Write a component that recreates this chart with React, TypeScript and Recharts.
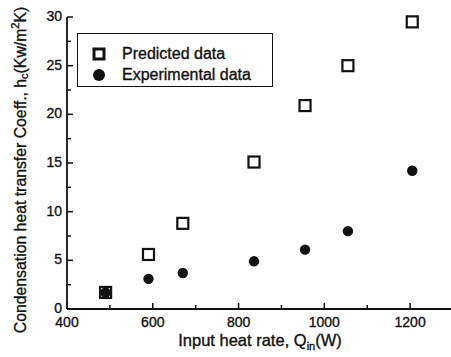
import { ScatterChart, Scatter, XAxis, YAxis, Legend } from 'recharts'

const HEAT_RATE = [490, 590, 670, 836, 955, 1055, 1205]
const PREDICTED = [1.7, 5.6, 8.8, 15.1, 20.9, 25.0, 29.5]
const EXPERIMENTAL = [1.7, 3.1, 3.7, 4.9, 6.1, 8.0, 14.2]
const SERIES_NAMES = ['Predicted data', 'Experimental data']

const X_TICKS = [400, 500, 600, 700, 800, 900, 1000, 1100, 1200, 1300]
const X_LABELED = [400, 600, 800, 1000, 1200]
const Y_TICKS = [0, 2.5, 5, 7.5, 10, 12.5, 15, 17.5, 20, 22.5, 25, 27.5, 30]
const Y_LABELED = [0, 5, 10, 15, 20, 25, 30]

const predictedData = HEAT_RATE.map((q, i) => ({ q, h: PREDICTED[i] }))
const experimentalData = HEAT_RATE.map((q, i) => ({ q, h: EXPERIMENTAL[i] }))

const FONT = '"Liberation Sans", Arial, sans-serif'
const INK = '#111'
const TEXT_STYLE = { stroke: INK, strokeWidth: 0.35 }

const OpenSquare = (p: any) => (
  <rect x={p.cx - 5.5} y={p.cy - 5.5} width={11} height={11} fill="#fff" stroke={INK} strokeWidth={2.2} />
)
const Dot = (p: any) => <circle cx={p.cx} cy={p.cy} r={5.2} fill={INK} />

const BottomTick = ({ x, y, payload }: any) => {
  const major = X_LABELED.includes(payload.value)
  return (
    <g>
      <line x1={x} x2={x} y1={y} y2={y - (major ? 6 : 4)} stroke={INK} strokeWidth={1.5} />
      {major && (
        <text x={x} y={y + 18} textAnchor="middle" fontSize={14} fontFamily={FONT} fill={INK} style={TEXT_STYLE}>
          {payload.value}
        </text>
      )}
    </g>
  )
}

const TopTick = ({ x, y, payload }: any) => {
  const major = X_LABELED.includes(payload.value)
  return <line x1={x} x2={x} y1={y} y2={y + (major ? 6 : 4)} stroke={INK} strokeWidth={1.5} />
}

const LeftTick = ({ x, y, payload }: any) => {
  const major = Y_LABELED.includes(payload.value)
  return (
    <g>
      <line x1={x} x2={x + (major ? 6 : 4)} y1={y} y2={y} stroke={INK} strokeWidth={1.5} />
      {major && (
        <text x={x - 5} y={y + 4} textAnchor="end" fontSize={14} fontFamily={FONT} fill={INK} style={TEXT_STYLE}>
          {payload.value}
        </text>
      )}
    </g>
  )
}

const RightTick = ({ x, y, payload }: any) => {
  const major = Y_LABELED.includes(payload.value)
  return <line x1={x} x2={x - (major ? 6 : 4)} y1={y} y2={y} stroke={INK} strokeWidth={1.5} />
}

const YTitle = ({ viewBox }: any) => {
  const cx = 20
  const cy = viewBox.y + viewBox.height / 2 + 7
  return (
    <text
      transform={`translate(${cx},${cy}) rotate(-90)`}
      textAnchor="middle"
      dominantBaseline="central"
      fontSize={15.8}
      fontFamily={FONT}
      fill={INK}
      style={TEXT_STYLE}
    >
      Condensation heat transfer Coeff., h
      <tspan dy={4} fontSize={11}>c</tspan>
      <tspan dy={-4}>(Kw/m</tspan>
      <tspan dy={-5} fontSize={11}>2</tspan>
      <tspan dy={5}>K)</tspan>
    </text>
  )
}

const XTitle = ({ viewBox }: any) => {
  const cx = viewBox.x + viewBox.width / 2
  return (
    <text x={cx} y={346} textAnchor="middle" fontSize={16.5} fontFamily={FONT} fill={INK} style={TEXT_STYLE}>
      Input heat rate, Q
      <tspan dy={4} fontSize={11}>in</tspan>
      <tspan dy={-4}>(W)</tspan>
    </text>
  )
}

const LegendBox = ({ payload }: any) => {
  const items = SERIES_NAMES.map(name => (payload || []).find((e: any) => e.value === name)).filter(Boolean)
  return (
    <div
      style={{
        border: `1.5px solid ${INK}`,
        width: 196,
        height: 54,
        boxSizing: 'border-box',
        padding: '9px 0 0 13px',
        background: '#fff',
        fontFamily: FONT,
        fontSize: 16,
        color: INK,
        WebkitTextStroke: '0.35px #111',
      }}
    >
      {items.map((entry: any) => (
        <div key={entry.value} style={{ display: 'flex', alignItems: 'center', height: 21 }}>
          <svg width={16} height={14} style={{ marginRight: 15 }}>
            {entry.value === 'Predicted data' ? (
              <rect x={3} y={2} width={10} height={10} fill="#fff" stroke={INK} strokeWidth={3} />
            ) : (
              <circle cx={8} cy={7} r={6} fill={INK} />
            )}
          </svg>
          <span>{entry.value}</span>
        </div>
      ))}
    </div>
  )
}

export default function App() {
  return (
    <div style={{ position: 'absolute', left: 0, top: 0, width: 451, height: 357, overflow: 'hidden', background: '#fff' }}>
      <ScatterChart width={460} height={357} margin={{ top: 17, right: 7, bottom: 0, left: 0 }}>
        <XAxis
          xAxisId="b"
          type="number"
          dataKey="q"
          domain={[400, 1300]}
          ticks={X_TICKS}
          interval={0}
          height={48}
          tickSize={0}
          tickMargin={0}
          tickLine={false}
          tick={<BottomTick />}
          axisLine={{ stroke: INK, strokeWidth: 1.8 }}
          label={<XTitle />}
        />
        <XAxis
          xAxisId="t"
          orientation="top"
          type="number"
          dataKey="q"
          domain={[400, 1300]}
          ticks={X_TICKS}
          interval={0}
          height={0}
          tickSize={0}
          tickMargin={0}
          tickLine={false}
          tick={<TopTick />}
          axisLine={{ stroke: INK, strokeWidth: 1.8 }}
        />
        <YAxis
          yAxisId="l"
          type="number"
          dataKey="h"
          domain={[0, 30]}
          ticks={Y_TICKS}
          interval={0}
          width={67}
          tickSize={0}
          tickMargin={0}
          tickLine={false}
          tick={<LeftTick />}
          axisLine={{ stroke: INK, strokeWidth: 1.8 }}
          label={<YTitle />}
        />
        <YAxis
          yAxisId="r"
          orientation="right"
          type="number"
          dataKey="h"
          domain={[0, 30]}
          ticks={Y_TICKS}
          interval={0}
          width={0}
          tickSize={0}
          tickMargin={0}
          tickLine={false}
          tick={<RightTick />}
          axisLine={{ stroke: INK, strokeWidth: 1.8 }}
        />
        <Legend
          layout="vertical"
          align="center"
          verticalAlign="middle"
          content={<LegendBox />}
          wrapperStyle={{ position: 'absolute', left: 77, top: 33, width: 'auto', height: 'auto' }}
        />
        <Scatter
          name="Predicted data"
          data={predictedData}
          xAxisId="b"
          yAxisId="l"
          shape={OpenSquare}
          isAnimationActive={false}
        />
        <Scatter
          name="Experimental data"
          data={experimentalData}
          xAxisId="b"
          yAxisId="l"
          shape={Dot}
          isAnimationActive={false}
        />
      </ScatterChart>
    </div>
  )
}
